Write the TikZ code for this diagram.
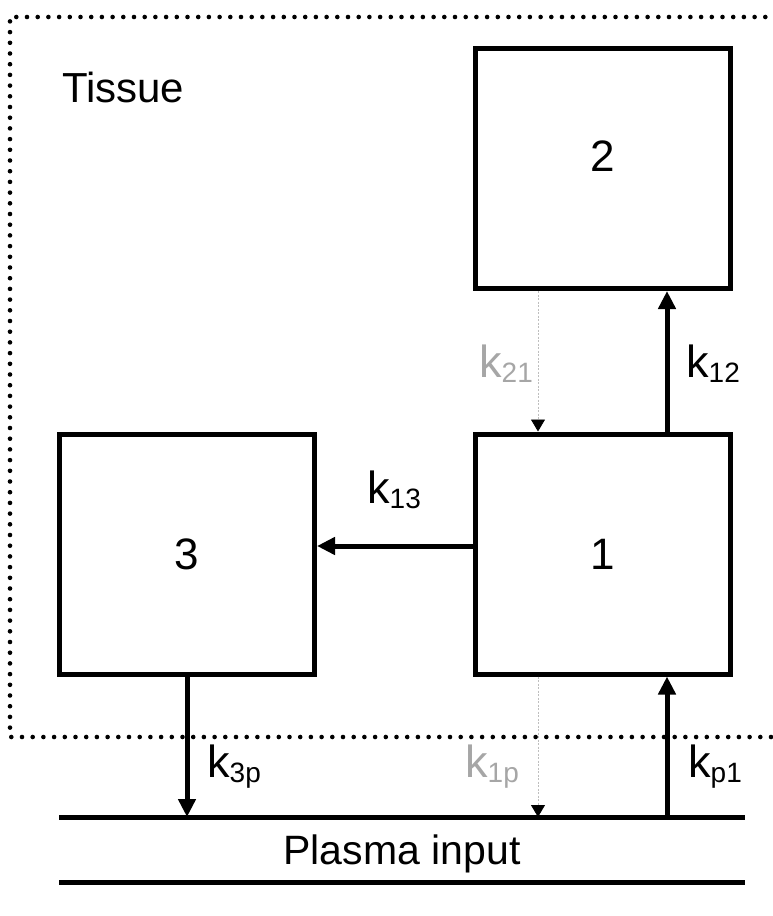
\documentclass[tikz,border=0pt]{standalone}
\usepackage{fontspec}
\setmainfont{Liberation Sans}
\usetikzlibrary{arrows.meta,calc}
\definecolor{fadetext}{RGB}{166,166,166}
\definecolor{fadeline}{RGB}{190,190,190}
\newcommand{\krate}[1]{k\raisebox{-5pt}{\fontsize{28}{32}\selectfont #1}}
\begin{document}
\begin{tikzpicture}[x=1pt,y=-1pt,
  box/.style={draw,line width=5pt,minimum width=255pt,minimum height=240pt,inner sep=0pt,font=\fontsize{44}{52}\selectfont},
  flow/.style={line width=5pt,-{Triangle[width=17pt,length=18pt]}},
  back/.style={line width=0.8pt,draw=fadeline,dash pattern=on 2pt off 1.5pt,-{Triangle[width=14pt,length=12pt,color=black]}},
  rate/.style={anchor=base west,inner sep=0pt,font=\fontsize{45}{54}\selectfont},
  title/.style={anchor=base west,inner sep=0pt,font=\fontsize{42}{50}\selectfont},
  border/.style={line width=4.6pt,line cap=round,dash pattern=on 0pt off 10.7pt},
  plasma/.style={line width=5pt}
]
\useasboundingbox (0,0) rectangle (773,916);

% tissue border
\draw[border] (776,17) -- (10,17) -- (10,737) -- (776,737);
\node[title] (tissue) at (62,102) {Tissue};

% compartments
\node[box] (box2) at (602.5,168.5) {\raisebox{24pt}{2}};
\node[box] (box1) at (602.5,554) {1};
\node[box] (box3) at (187,554) {3};

% plasma
\coordinate (pl) at (59,817);
\coordinate (pr) at (745,817);
\coordinate (ql) at (59,882);
\coordinate (qr) at (745,882);
\draw[plasma] (pl) -- (pr);
\draw[plasma] (ql) -- (qr);
\node[anchor=base,inner sep=0pt,font=\fontsize{41}{50}\selectfont] (plasmatext) at (402,864) {Plasma input};

% exchanges
\draw[flow] ([xshift=64.5pt]box1.north) -- ([xshift=64.5pt]box2.south);
\draw[back] ([xshift=-64.5pt]box2.south) -- ([xshift=-64.5pt]box1.north);
\draw[flow] ([yshift=8pt]box1.west) -- ([yshift=8pt]box3.east);
\draw[flow] (box3.south) -- (box3.south |- pl);
\draw[back] ([xshift=-64.5pt]box1.south) -- ([xshift=-64.5pt]box1.south |- pl);
\draw[flow] ([xshift=64.5pt]box1.south |- pl) -- ([xshift=64.5pt]box1.south);

% rate labels
\node[rate,text=fadetext] (k21) at (479,377) {\krate{21}};
\node[rate] (k12) at (686,377) {\krate{12}};
\node[rate] (k13) at (367,503) {\krate{13}};
\node[rate] (k3p) at (207,777) {\krate{3p}};
\node[rate,text=fadetext] (k1p) at (465,777) {\krate{1p}};
\node[rate] (kp1) at (688,777) {\krate{p1}};
\end{tikzpicture}
\end{document}
